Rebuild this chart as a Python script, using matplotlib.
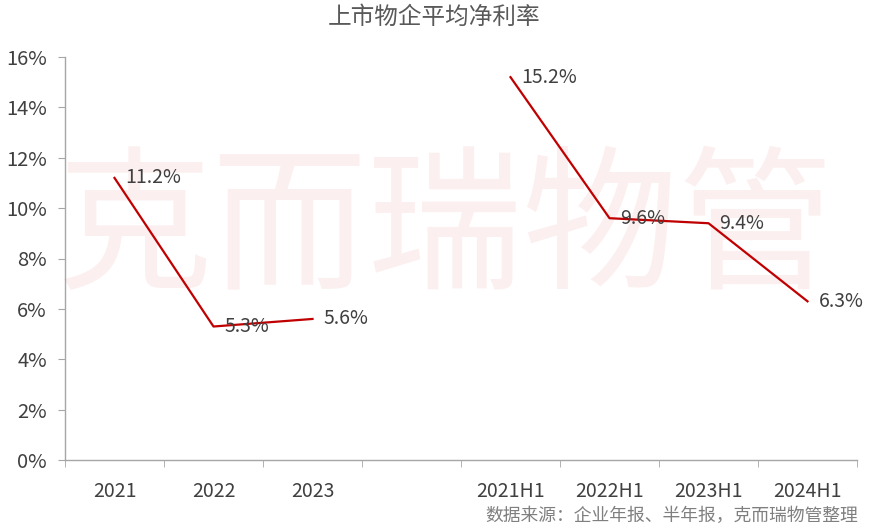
import matplotlib
matplotlib.use('Agg')
import matplotlib.pyplot as plt
import numpy as np

plt.rcParams['font.family'] = ['Noto Sans CJK SC', 'DejaVu Sans']

categories = ['2021', '2022', '2023', '', '2021H1', '2022H1', '2023H1', '2024H1']
annual = [11.2, 5.3, 5.6]
half_year = [15.2, 9.6, 9.4, 6.3]
title = '上市物企平均净利率'
source = '数据来源：企业年报、半年报，克而瑞物管整理'
watermark = '克而瑞物管'

line_color = '#C00000'
text_color = '#404040'
axis_color = '#A6A6A6'

fig = plt.figure(figsize=(8.7, 5.3), dpi=100)
ax = fig.add_axes([65 / 870, 70 / 530, 792 / 870, 403 / 530])

x = np.arange(len(categories))
annual_x = x[:3]
half_x = x[4:]

# watermark behind everything
ax.text(3.34, 9.0, watermark, fontsize=112, color='#FCEFEF', ha='center', va='center',
        zorder=0, fontweight='medium')

ax.plot(annual_x, annual, color=line_color, linewidth=1.6, zorder=3)
ax.plot(half_x, half_year, color=line_color, linewidth=1.6, zorder=3)

for xs, ys in [(annual_x, annual), (half_x, half_year)]:
    for xi, yi in zip(xs, ys):
        ax.annotate(f'{yi:.1f}%', (xi, yi), xytext=(8, 0), textcoords='offset points',
                    ha='left', va='center', fontsize=14, color=text_color, zorder=4)

ax.set_xlim(-0.5, len(categories) - 0.5)
ax.set_ylim(0, 16)
ax.set_yticks(np.arange(0, 17, 2))
ax.set_yticklabels([f'{v}%' for v in range(0, 17, 2)])

ax.set_xticks(x)
ax.set_xticklabels(categories)
ax.set_xticks(np.arange(-0.5, len(categories), 1), minor=True)
ax.tick_params(axis='x', which='major', length=0, pad=15, labelsize=14, labelcolor=text_color)
ax.tick_params(axis='x', which='minor', length=5, color=axis_color, direction='out')
ax.tick_params(axis='y', length=5, color=axis_color, labelsize=14.5, labelcolor=text_color, pad=8)

for side in ['top', 'right']:
    ax.spines[side].set_visible(False)
for side in ['left', 'bottom']:
    ax.spines[side].set_color(axis_color)
    ax.spines[side].set_linewidth(1)

fig.text(434 / 870, 1 - 17 / 530, title, ha='center', va='center', fontsize=17, color='#595959')
fig.text(858 / 870, 1 - 516 / 530, source, ha='right', va='center', fontsize=12.8, color='#7F7F7F')

fig.savefig('out.png', dpi=100)
